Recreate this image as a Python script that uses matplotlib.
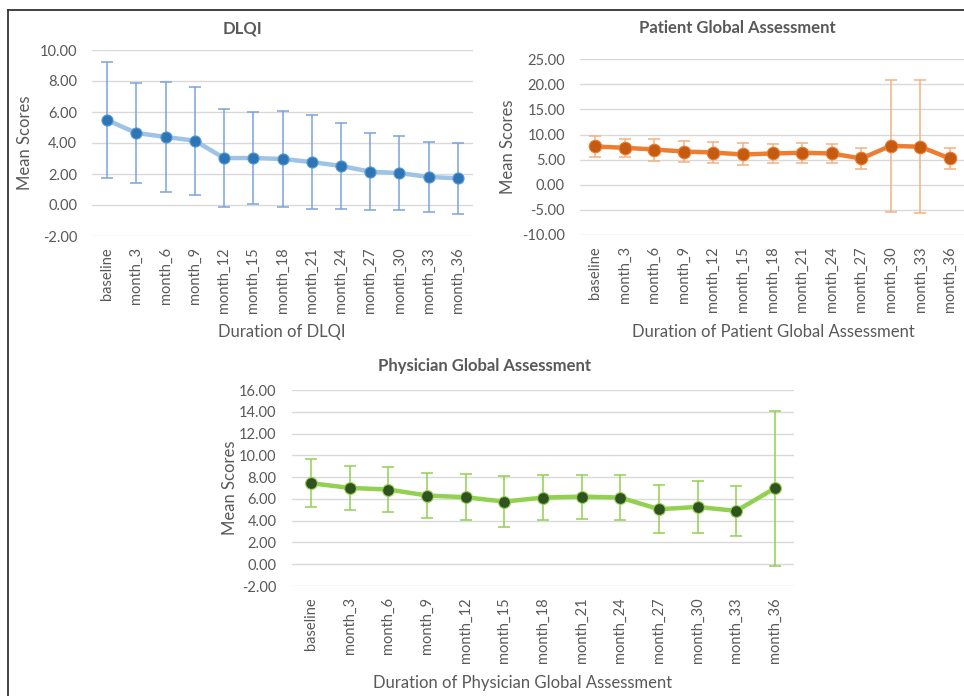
import numpy as np
import matplotlib.pyplot as plt
from matplotlib.lines import Line2D

plt.rcParams['font.family'] = ['Lato', 'DejaVu Sans']

visits = ["baseline", "month_3", "month_6", "month_9", "month_12", "month_15",
          "month_18", "month_21", "month_24", "month_27", "month_30",
          "month_33", "month_36"]

dlqi_mean = [5.48, 4.65, 4.39, 4.15, 3.03, 3.03, 2.97, 2.77, 2.52, 2.15, 2.06, 1.81, 1.72]
dlqi_sd = [3.72, 3.24, 3.56, 3.49, 3.18, 2.98, 3.12, 3.03, 2.76, 2.50, 2.40, 2.28, 2.27]

patient_mean = [7.63, 7.37, 7.03, 6.63, 6.43, 6.04, 6.24, 6.37, 6.24, 5.24, 7.77, 7.57, 5.24]
patient_sd = [2.03, 1.85, 2.19, 2.06, 2.12, 2.19, 1.93, 1.96, 1.90, 2.16, 13.14, 13.22, 2.19]

physician_mean = [7.44, 7.01, 6.86, 6.31, 6.15, 5.75, 6.12, 6.21, 6.12, 5.05, 5.26, 4.90, 6.98]
physician_sd = [2.20, 1.99, 2.05, 2.08, 2.12, 2.31, 2.08, 2.02, 2.08, 2.20, 2.37, 2.31, 7.10]

W, H = 964, 696
TXT = "#595959"
GRID = "#D9D9D9"

fig = plt.figure(figsize=(W / 100, H / 100), dpi=100)


def px_rect(x0, y0, x1, y1):
    # pixel box (top-left origin) -> figure fraction rect
    return [x0 / W, (H - y1) / H, (x1 - x0) / W, (y1 - y0) / H]


def px_text(x, y, s, **kw):
    fig.text(x / W, (H - y) / H, s, ha="center", va="center", color=TXT, **kw)


def panel(rect, mean, sd, ylim, step, line_c, marker_c, edge_c, err_c, msize):
    ax = fig.add_axes(rect)
    x = np.arange(len(visits))
    ax.errorbar(x, mean, yerr=sd, fmt="none", ecolor=err_c, elinewidth=1.1,
                capsize=4, capthick=1.1, zorder=2)
    ax.plot(x, mean, color=line_c, lw=3.2, zorder=3, solid_capstyle="round")
    ax.plot(x, mean, "o", ms=msize, mfc=marker_c, mec=edge_c, mew=0.8, zorder=4)
    ax.set_xlim(-0.5, len(visits) - 0.5)
    ax.set_ylim(*ylim)
    ticks = np.arange(ylim[0], ylim[1] + step / 2, step)
    ax.set_yticks(ticks)
    ax.set_yticklabels([f"{t:.2f}" for t in ticks])
    ax.set_xticks(x)
    ax.set_xticklabels(visits, rotation=90)
    ax.tick_params(axis="both", length=0, labelcolor=TXT)
    ax.tick_params(axis="y", pad=11, labelsize=10.5)
    ax.tick_params(axis="x", pad=8, labelsize=10.5)
    ax.grid(axis="y", color=GRID, lw=1)
    ax.set_axisbelow(True)
    for s in ax.spines.values():
        s.set_visible(False)
    return ax


panel(px_rect(92.4, 50, 472.6, 236), dlqi_mean, dlqi_sd, (-2, 10), 2,
      "#9DC3E6", "#2E75B6", "#5B9BD5", "#7BA3DB", 8)
px_text(242, 28, "DLQI", fontsize=12, fontweight="bold")
px_text(25, 143, "Mean Scores", fontsize=12, rotation=90)
px_text(282, 332, "Duration of DLQI", fontsize=12)

panel(px_rect(580.2, 59.3, 964.8, 235), patient_mean, patient_sd, (-10, 25), 5,
      "#ED7D31", "#C55A11", "#ED7D31", "#F4B183", 9)
px_text(737, 28, "Patient Global Assessment", fontsize=12, fontweight="bold")
px_text(508, 147, "Mean Scores", fontsize=12, rotation=90)
px_text(773, 332, "Duration of Patient Global Assessment", fontsize=12)

panel(px_rect(291.7, 390, 794.3, 586), physician_mean, physician_sd, (-2, 16), 2,
      "#92D050", "#2F5220", "#92D050", "#92D050", 8.5)
px_text(485, 366, "Physician Global Assessment", fontsize=12, fontweight="bold")
px_text(230, 488, "Mean Scores", fontsize=12, rotation=90)
px_text(523, 683, "Duration of Physician Global Assessment", fontsize=12)

# outer frame: top and left edges only
fig.add_artist(Line2D([8 / W, 1], [(H - 10) / H] * 2, color="#333333", lw=1.3))
fig.add_artist(Line2D([8 / W] * 2, [0, (H - 10) / H], color="#333333", lw=1.3))

fig.savefig("out.png", dpi=100)
